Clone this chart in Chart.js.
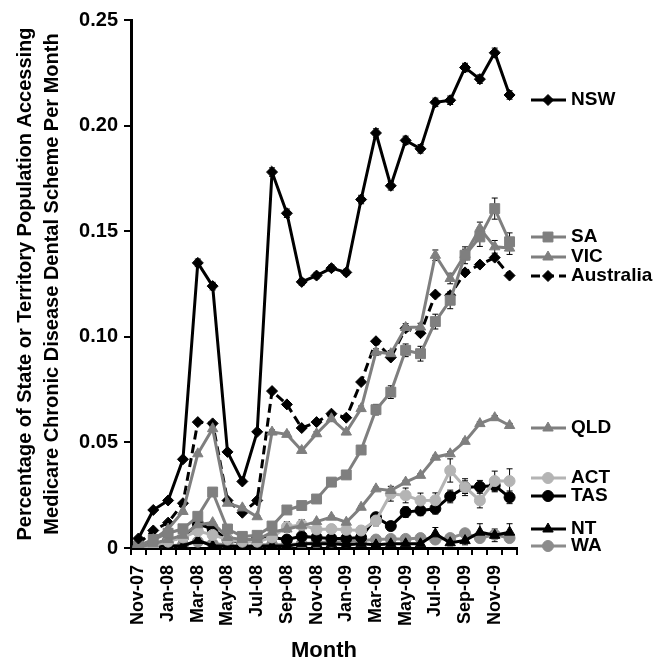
<!DOCTYPE html>
<html>
<head>
<meta charset="utf-8">
<script src="https://cdn.jsdelivr.net/npm/chart.js@4/dist/chart.umd.min.js"></script>
<style>
  body { margin: 0; background: #fff; }
</style>
</head>
<body>
<canvas id="dentalChart" width="653" height="667"></canvas>
<script>
// Monthly data, Nov-07 .. Dec-09
const months = ['Nov-07', 'Dec-07', 'Jan-08', 'Feb-08', 'Mar-08', 'Apr-08', 'May-08', 'Jun-08', 'Jul-08',
  'Aug-08', 'Sep-08', 'Oct-08', 'Nov-08', 'Dec-08', 'Jan-09', 'Feb-09', 'Mar-09', 'Apr-09', 'May-09',
  'Jun-09', 'Jul-09', 'Aug-09', 'Sep-09', 'Oct-09', 'Nov-09', 'Dec-09'];

const nsw = [0.0045, 0.0180, 0.0225, 0.0420, 0.1350, 0.1240, 0.0455, 0.0315, 0.0550, 0.1780, 0.1585, 0.1260, 0.1290,
  0.1325, 0.1305, 0.1650, 0.1965, 0.1715, 0.1930, 0.1890, 0.2110, 0.2120, 0.2275, 0.2220, 0.2345, 0.2145];
const sa = [0.0010, 0.0040, 0.0070, 0.0091, 0.0150, 0.0265, 0.0090, 0.0055, 0.0060, 0.0104, 0.0180, 0.0201, 0.0232,
  0.0312, 0.0346, 0.0464, 0.0655, 0.0738, 0.0936, 0.0920, 0.1072, 0.1173, 0.1386, 0.1473, 0.1607, 0.1450];
const vic = [0.0010, 0.0040, 0.0090, 0.0173, 0.0446, 0.0565, 0.0212, 0.0190, 0.0148, 0.0549, 0.0538, 0.0462, 0.0541,
  0.0612, 0.0549, 0.0660, 0.0928, 0.0920, 0.1044, 0.1046, 0.1386, 0.1276, 0.1390, 0.1513, 0.1426, 0.1420];
const australia = [0.0020, 0.0083, 0.0120, 0.0212, 0.0596, 0.0590, 0.0225, 0.0167, 0.0225, 0.0743, 0.0680, 0.0568,
  0.0596, 0.0636, 0.0617, 0.0786, 0.0979, 0.0902, 0.1040, 0.1017, 0.1200, 0.1197, 0.1305, 0.1342, 0.1375, 0.1290];
const qld = [0.0003, 0.0020, 0.0040, 0.0060, 0.0110, 0.0120, 0.0050, 0.0040, 0.0040, 0.0075, 0.0090, 0.0105, 0.0125,
  0.0146, 0.0122, 0.0193, 0.0280, 0.0272, 0.0312, 0.0344, 0.0430, 0.0446, 0.0505, 0.0589, 0.0617, 0.0580];
const act = [0.0003, 0.0010, 0.0030, 0.0050, 0.0080, 0.0062, 0.0040, 0.0030, 0.0030, 0.0050, 0.0100, 0.0110, 0.0088,
  0.0090, 0.0086, 0.0083, 0.0130, 0.0257, 0.0249, 0.0225, 0.0226, 0.0367, 0.0288, 0.0225, 0.0317, 0.0317];
const tas = [0.0005, 0.0020, 0.0035, 0.0050, 0.0115, 0.0090, 0.0040, 0.0025, 0.0045, 0.0050, 0.0040, 0.0055, 0.0050,
  0.0045, 0.0045, 0.0050, 0.0146, 0.0104, 0.0170, 0.0178, 0.0186, 0.0244, 0.0288, 0.0290, 0.0296, 0.0240];
const nt = [0.0002, 0.0005, 0.0010, 0.0010, 0.0036, 0.0010, 0.0010, 0.0005, 0.0010, 0.0010, 0.0010, 0.0020, 0.0020,
  0.0020, 0.0015, 0.0020, 0.0015, 0.0020, 0.0020, 0.0020, 0.0067, 0.0025, 0.0035, 0.0075, 0.0060, 0.0075];
const wa = [0.0002, 0.0005, 0.0010, 0.0015, 0.0030, 0.0020, 0.0015, 0.0010, 0.0015, 0.0015, 0.0015, 0.0020, 0.0025,
  0.0030, 0.0030, 0.0035, 0.0040, 0.0043, 0.0043, 0.0047, 0.0040, 0.0047, 0.0070, 0.0047, 0.0063, 0.0047];

// Error bar half-widths (same units)
const nswErr = [0.0005, 0.0008, 0.0008, 0.0010, 0.0018, 0.0018, 0.0010, 0.0010, 0.0010, 0.0020, 0.0020, 0.0015, 0.0015,
  0.0015, 0.0015, 0.0020, 0.0020, 0.0020, 0.0020, 0.0020, 0.0020, 0.0020, 0.0020, 0.0020, 0.0022, 0.0020];
const saErr = [0.0002, 0.0005, 0.0006, 0.0008, 0.0010, 0.0012, 0.0008, 0.0006, 0.0006, 0.0008, 0.0010, 0.0010, 0.0012,
  0.0015, 0.0015, 0.0018, 0.0025, 0.0030, 0.0030, 0.0035, 0.0035, 0.0040, 0.0040, 0.0045, 0.0050, 0.0042];
const vicErr = [0.0002, 0.0004, 0.0005, 0.0006, 0.0008, 0.0010, 0.0006, 0.0006, 0.0006, 0.0010, 0.0010, 0.0010, 0.0010,
  0.0012, 0.0012, 0.0012, 0.0015, 0.0015, 0.0018, 0.0018, 0.0025, 0.0025, 0.0025, 0.0030, 0.0030, 0.0030];
const qldErr = [0.0001, 0.0002, 0.0003, 0.0004, 0.0005, 0.0005, 0.0004, 0.0004, 0.0004, 0.0005, 0.0005, 0.0006, 0.0006,
  0.0006, 0.0006, 0.0007, 0.0008, 0.0008, 0.0008, 0.0008, 0.0009, 0.0010, 0.0010, 0.0010, 0.0010, 0.0010];
const actErr = [0.0002, 0.0005, 0.0008, 0.0010, 0.0015, 0.0015, 0.0010, 0.0010, 0.0010, 0.0015, 0.0025, 0.0025, 0.0020,
  0.0020, 0.0020, 0.0020, 0.0025, 0.0035, 0.0035, 0.0035, 0.0035, 0.0055, 0.0040, 0.0035, 0.0047, 0.0058];
const tasErr = [0.0002, 0.0005, 0.0008, 0.0010, 0.0015, 0.0012, 0.0008, 0.0008, 0.0008, 0.0010, 0.0010, 0.0012, 0.0012,
  0.0012, 0.0012, 0.0012, 0.0020, 0.0020, 0.0025, 0.0025, 0.0025, 0.0030, 0.0030, 0.0030, 0.0030, 0.0030];
const ntErr = [0.0002, 0.0003, 0.0005, 0.0005, 0.0010, 0.0005, 0.0005, 0.0005, 0.0005, 0.0005, 0.0005, 0.0008, 0.0008,
  0.0008, 0.0008, 0.0008, 0.0008, 0.0010, 0.0010, 0.0010, 0.0030, 0.0015, 0.0020, 0.0040, 0.0030, 0.0040];
const waErr = [0.0001, 0.0002, 0.0003, 0.0003, 0.0005, 0.0005, 0.0004, 0.0004, 0.0004, 0.0004, 0.0004, 0.0005, 0.0005,
  0.0005, 0.0005, 0.0005, 0.0006, 0.0006, 0.0006, 0.0006, 0.0006, 0.0007, 0.0008, 0.0007, 0.0008, 0.0007];

const yTicks = [0, 0.05, 0.10, 0.15, 0.20, 0.25];

const FONT = "'Liberation Sans', Arial, sans-serif";
const BLACK = '#000000';
const GREY = '#7f7f7f';
const LIGHT = '#b4b4b4';
const MID = '#8c8c8c';

// pixel rows for the labels at the right-hand end of each line
const legendRows = [100, 237, 257, 276, 428, 478, 496, 529, 546];

function series(label, data, errors, color, style, radius, dash) {
  return {
    label: label,
    data: data,
    errors: errors,
    borderColor: color,
    backgroundColor: color,
    borderWidth: 3,
    borderDash: dash || [],
    pointStyle: style,
    pointRadius: radius,
    pointBackgroundColor: color,
    pointBorderColor: color,
    pointBorderWidth: 1,
    tension: 0
  };
}

// Error bars drawn under the lines and markers
const errorBars = {
  id: 'errorBars',
  beforeDatasetsDraw(chart) {
    const ctx = chart.ctx;
    const y = chart.scales.y;
    ctx.save();
    ctx.strokeStyle = BLACK;
    ctx.lineWidth = 1;
    chart.data.datasets.forEach((ds, i) => {
      if (!ds.errors) return;
      chart.getDatasetMeta(i).data.forEach((pt, j) => {
        const e = ds.errors[j];
        if (!e) return;
        const top = y.getPixelForValue(ds.data[j] + e);
        const bot = y.getPixelForValue(Math.max(ds.data[j] - e, 0));
        ctx.beginPath();
        ctx.moveTo(pt.x, top); ctx.lineTo(pt.x, bot);
        ctx.moveTo(pt.x - 3, top); ctx.lineTo(pt.x + 3, top);
        ctx.moveTo(pt.x - 3, bot); ctx.lineTo(pt.x + 3, bot);
        ctx.stroke();
      });
    });
    ctx.restore();
  }
};

// Line/marker/name labels on the right side
const sideLegend = {
  id: 'sideLegend',
  afterDraw(chart) {
    const ctx = chart.ctx;
    chart.data.datasets.forEach((ds, i) => {
      const yPos = legendRows[i];
      ctx.save();
      ctx.strokeStyle = ds.borderColor;
      ctx.lineWidth = ds.borderWidth;
      ctx.setLineDash(ds.borderDash);
      ctx.beginPath();
      ctx.moveTo(531, yPos);
      ctx.lineTo(566, yPos);
      ctx.stroke();
      ctx.setLineDash([]);
      ctx.fillStyle = ds.pointBackgroundColor;
      ctx.strokeStyle = ds.pointBorderColor;
      ctx.lineWidth = 1;
      Chart.helpers.drawPoint(ctx, {pointStyle: ds.pointStyle, radius: ds.pointRadius, rotation: 0, borderWidth: 1}, 548, yPos);
      ctx.fillStyle = BLACK;
      ctx.font = 'bold 19px ' + FONT;
      ctx.textBaseline = 'middle';
      ctx.textAlign = 'left';
      ctx.fillText(ds.label, 571, yPos);
      ctx.restore();
    });
  }
};

new Chart(document.getElementById('dentalChart'), {
  type: 'line',
  data: {
    labels: months,
    datasets: [
      series('NSW', nsw, nswErr, BLACK, 'rectRot', 5.5),
      series('SA', sa, saErr, GREY, 'rect', 7),
      series('VIC', vic, vicErr, GREY, 'triangle', 6),
      series('Australia', australia, null, BLACK, 'rectRot', 5.5, [9, 5]),
      series('QLD', qld, qldErr, GREY, 'triangle', 6),
      series('ACT', act, actErr, LIGHT, 'circle', 5.5),
      series('TAS', tas, tasErr, BLACK, 'circle', 5.5),
      series('NT', nt, ntErr, BLACK, 'triangle', 6),
      series('WA', wa, waErr, MID, 'circle', 5.5)
    ]
  },
  options: {
    responsive: false,
    animation: false,
    devicePixelRatio: 1,
    layout: { padding: { top: 20, right: 136, left: 0, bottom: 0 } },
    plugins: {
      legend: { display: false },
      tooltip: { enabled: false }
    },
    scales: {
      x: {
        type: 'category',
        offset: true,
        afterFit: (scale) => { scale.height = 119; },
        border: { color: BLACK, width: 3 },
        grid: { offset: true, drawOnChartArea: false, drawTicks: true, tickLength: 7, color: BLACK, lineWidth: 2 },
        ticks: {
          autoSkip: false,
          maxRotation: 90,
          minRotation: 90,
          padding: 10,
          color: BLACK,
          font: { family: FONT, size: 18, weight: 'bold' },
          callback: function(value, index) { return index % 2 === 0 ? this.getLabelForValue(value) : ''; }
        },
        title: {
          display: true,
          text: 'Month',
          color: BLACK,
          font: { family: FONT, size: 22, weight: 'bold' },
          padding: { top: 4, bottom: 3 }
        }
      },
      y: {
        min: 0,
        max: 0.25,
        afterFit: (scale) => { scale.width = 131; },
        afterBuildTicks: (scale) => { scale.ticks = yTicks.map((v) => ({ value: v })); },
        border: { color: BLACK, width: 3 },
        grid: { drawOnChartArea: false, drawTicks: true, tickLength: 7, color: BLACK, lineWidth: 2 },
        ticks: {
          padding: 6,
          color: BLACK,
          font: { family: FONT, size: 20, weight: 'bold' },
          callback: (v) => (v === 0 ? '0' : v.toFixed(2))
        },
        title: {
          display: true,
          text: ['Percentage of State or Territory Population Accessing', 'Medicare Chronic Disease Dental Scheme Per Month'],
          color: BLACK,
          font: { family: FONT, size: 20, weight: 'bold', lineHeight: 1.35 },
          padding: { top: 12, bottom: 0 }
        }
      }
    }
  },
  plugins: [errorBars, sideLegend]
});
</script>
</body>
</html>
